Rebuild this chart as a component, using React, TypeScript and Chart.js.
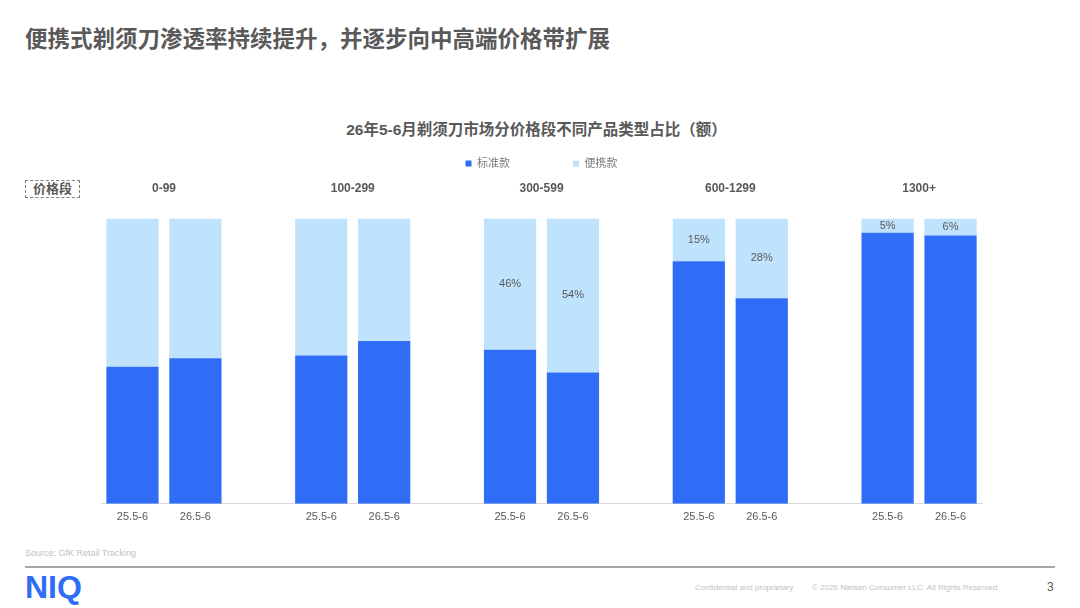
import { useEffect, useRef } from "react";
import { Chart, registerables } from "chart.js";

Chart.register(...registerables);

const FONT = "'Liberation Sans', 'Noto Sans CJK SC', Arial, sans-serif";

const priceBands = ["0-99", "100-299", "300-599", "600-1299", "1300+"];
const periods = ["25.5-6", "26.5-6"];
// 标准款 share (%) per price band: [25.5-6, 26.5-6]
const standardShare = [
    [48, 51],
    [52, 57],
    [54, 46],
    [85, 72],
    [95, 94],
];
// 便携款 share (%) per price band: [25.5-6, 26.5-6]
const portableShare = [
    [52, 49],
    [48, 43],
    [46, 54],
    [15, 28],
    [5, 6],
];
// bands whose 便携款 share is printed on the bar
const labeledBands = ["300-599", "600-1299", "1300+"];
const seriesNames = ["标准款", "便携款"];
const seriesColors = ["#2F6DF6", "#BFE3FC"];

// flatten into category slots, one empty slot between bands
const categories: string[] = [];
const bandOf: (string | null)[] = [];
const bandTitles: string[] = [];
const standardData: (number | null)[] = [];
const portableData: (number | null)[] = [];
priceBands.forEach((band, b) => {
    if (b > 0) {
        categories.push("");
        bandOf.push(null);
        bandTitles.push("");
        standardData.push(null);
        portableData.push(null);
    }
    periods.forEach((p, k) => {
        categories.push(p);
        bandOf.push(band);
        bandTitles.push(k === 0 ? band : "");
        standardData.push(standardShare[b][k]);
        portableData.push(portableShare[b][k]);
    });
});

const segmentLabels = {
    id: "segmentLabels",
    afterDatasetsDraw(chart: any) {
        const ctx = chart.ctx;
        const meta = chart.getDatasetMeta(1);
        ctx.save();
        ctx.font = `11px ${FONT}`;
        ctx.fillStyle = "#595959";
        ctx.textAlign = "center";
        ctx.textBaseline = "middle";
        meta.data.forEach((bar: any, i: number) => {
            const band = bandOf[i];
            const v = portableData[i];
            if (!band || v == null || !labeledBands.includes(band)) return;
            const {x, y, base} = bar.getProps(["x", "y", "base"], true);
            ctx.fillText(`${v}%`, x, (y + base) / 2);
        });
        ctx.restore();
    }
};

const ShareChart = () => {
    const canvasRef = useRef<HTMLCanvasElement>(null);

    useEffect(() => {
        const ctx = canvasRef.current;
        if (!ctx) return;
        Chart.defaults.font.family = FONT;

        const myChart = new Chart(ctx, {
            type: "bar",
            data: {
                labels: categories,
                datasets: [
                    {
                        label: seriesNames[0],
                        data: standardData,
                        backgroundColor: seriesColors[0],
                        borderWidth: 0,
                        barPercentage: 0.83,
                        categoryPercentage: 1,
                    },
                    {
                        label: seriesNames[1],
                        data: portableData,
                        backgroundColor: seriesColors[1],
                        borderWidth: 0,
                        barPercentage: 0.83,
                        categoryPercentage: 1,
                    }
                ]
            },
            options: {
                animation: false,
                responsive: true,
                maintainAspectRatio: false,
                events: [],
                layout: {padding: {left: 101, right: 98, top: 0, bottom: 14}},
                plugins: {
                    legend: {
                        position: "top",
                        align: "center",
                        labels: {
                            boxWidth: 6,
                            boxHeight: 6,
                            padding: 63,
                            color: "#7F7F7F",
                            font: {size: 11, family: FONT},
                        }
                    },
                    tooltip: {enabled: false},
                    title: {display: false},
                },
                scales: {
                    x: {
                        stacked: true,
                        grid: {display: false, drawTicks: false},
                        border: {color: "#D9D9D9", width: 1},
                        ticks: {
                            color: "#595959",
                            font: {size: 11, family: FONT},
                            padding: 7,
                            autoSkip: false,
                            maxRotation: 0,
                        }
                    },
                    x2: {
                        type: "category",
                        labels: bandTitles,
                        position: "top",
                        offset: true,
                        grid: {
                            display: true,
                            drawOnChartArea: false,
                            drawTicks: true,
                            tickLength: 21,
                            color: "rgba(0,0,0,0)",
                        },
                        border: {display: false},
                        ticks: {
                            color: "#595959",
                            font: {size: 12, weight: "bold", family: FONT},
                            padding: 2,
                            labelOffset: 31.5,
                            autoSkip: false,
                            maxRotation: 0,
                        }
                    },
                    y: {stacked: true, display: false, min: 0, max: 100},
                }
            },
            plugins: [segmentLabels]
        } as any);
        return () => {
            myChart.destroy();
        }
    }, []);

    return (
        <div style={{position: "absolute", left: 0, top: 95, width: 1080, height: 450}}>
            <canvas ref={canvasRef}></canvas>
        </div>
    )
}

const App = () => {
    return (
        <div style={{position: "absolute", left: 0, top: 0, width: 1080, height: 608, background: "#fff", fontFamily: FONT, overflow: "hidden"}}>
            <div style={{position: "absolute", left: 25, top: 28, fontSize: 22.5, lineHeight: "24px", fontWeight: "bold", color: "#595959", whiteSpace: "nowrap"}}>
                便携式剃须刀渗透率持续提升，并逐步向中高端价格带扩展
            </div>
            <div style={{position: "absolute", left: 0, width: 1073, top: 121, fontSize: 15.5, lineHeight: "18px", fontWeight: "bold", color: "#595959", textAlign: "center"}}>
                26年5-6月剃须刀市场分价格段不同产品类型占比（额）
            </div>
            <div style={{position: "absolute", left: 25, top: 180, width: 53, height: 16, border: "1px dashed #7F7F7F", fontSize: 13, lineHeight: "16px", fontWeight: "bold", color: "#595959", textAlign: "center"}}>
                价格段
            </div>
            <ShareChart/>
            <div style={{position: "absolute", left: 25, top: 548, fontSize: 9, color: "#BFBFBF"}}>
                Source: GfK Retail Tracking
            </div>
            <div style={{position: "absolute", left: 25, top: 566, width: 1030, height: 2, background: "#A6A6A6"}}></div>
            <div style={{position: "absolute", left: 25, top: 569, fontSize: 32, lineHeight: "36px", fontWeight: 900, color: "#2F6DF6"}}>
                NIQ
            </div>
            <div style={{position: "absolute", left: 695, top: 583, fontSize: 8, color: "#BFBFBF", whiteSpace: "nowrap"}}>
                Confidential and proprietary
            </div>
            <div style={{position: "absolute", left: 812, top: 583, fontSize: 8, color: "#BFBFBF", whiteSpace: "nowrap"}}>
                © 2026 Nielsen Consumer LLC. All Rights Reserved.
            </div>
            <div style={{position: "absolute", left: 1047, top: 580, fontSize: 12, color: "#595959"}}>
                3
            </div>
        </div>
    )
}

export default App;
